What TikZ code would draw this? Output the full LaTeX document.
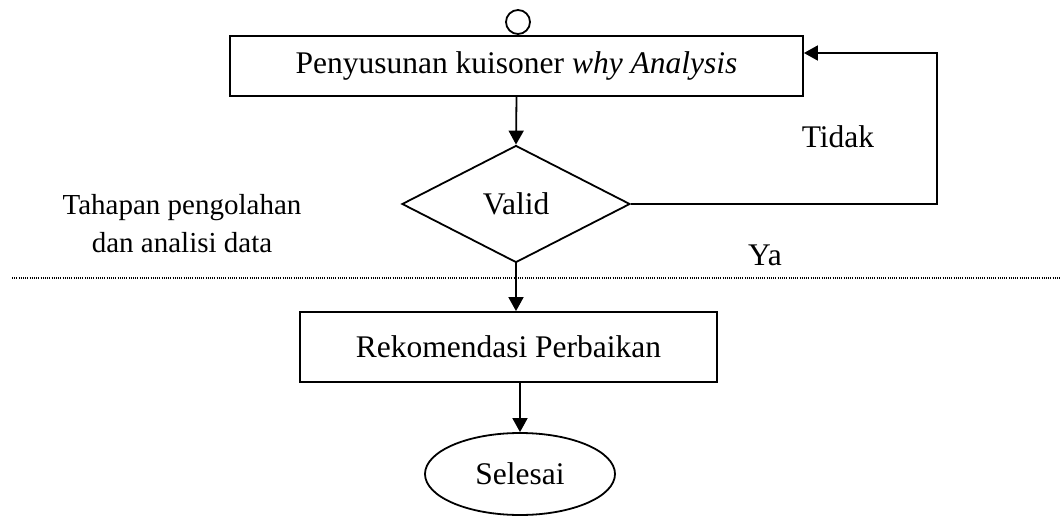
\documentclass[tikz,border=0pt]{standalone}
\usepackage{fontspec}
\setmainfont{Liberation Serif}
\usetikzlibrary{positioning}
\usetikzlibrary{arrows.meta}
\usetikzlibrary{shapes.geometric}

\begin{document}
\begin{tikzpicture}[x=1pt,y=-1pt,line width=1.8pt,
  font=\fontsize{31.5}{38}\selectfont,
  >={Triangle[length=14pt,width=15pt]},
  proses/.style={draw,rectangle,inner sep=0pt},
  keputusan/.style={draw,diamond,inner sep=0pt},
  akhir/.style={draw,ellipse,inner sep=0pt}]
\useasboundingbox (0,0) rectangle (1060,516);

\node[draw,circle,minimum size=24pt,inner sep=0pt] (mulai) at (518,22) {};
\node[proses,minimum width=573pt,minimum height=60pt] (kuis) at (516.5,66) {Penyusunan kuisoner \textit{why Analysis}};
\node[keputusan,minimum width=228pt,minimum height=117pt] (valid) at (516,204) {Valid};
\node[proses,minimum width=417pt,minimum height=70pt] (rekom) at (508.5,347) {Rekomendasi Perbaikan};
\node[akhir,minimum width=190pt,minimum height=82pt] (selesai) at (520,474) {Selesai};

\node (tidak) at (838,137) {Tidak};
\node (ya) at (765,255) {Ya};
\node[align=center,font=\fontsize{29}{38}\selectfont] (tahap) at (182,224) {Tahapan pengolahan\\dan analisi data};

\coordinate (balik) at (937,53);
\coordinate (batasKiri) at (12,278);
\coordinate (batasKanan) at (1060,278);

\draw[->] (kuis.south) -- (valid.north);
\draw[->] (valid.south) -- (valid.south |- rekom.north);
\draw[->] (selesai.north |- rekom.south) -- (selesai.north);
\draw[->] (valid.east) -| (balik) -- (balik -| kuis.east);
\draw[line width=1.2pt,dash pattern=on 1pt off 1.2pt] (batasKiri) -- (batasKanan);
\end{tikzpicture}
\end{document}
